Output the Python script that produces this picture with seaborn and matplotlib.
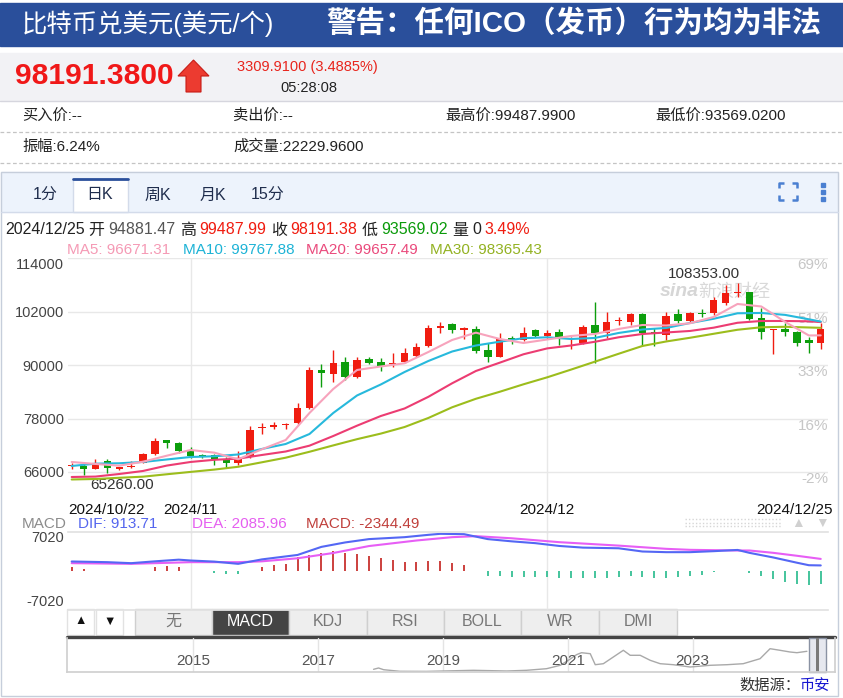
import numpy as np
import matplotlib
matplotlib.use("Agg")
import matplotlib.pyplot as plt
import matplotlib.transforms as mtransforms
from matplotlib.patches import Rectangle, Polygon
import seaborn as sns

# ---- daily candles 2024/10/22 .. 2024/12/25 ----
opens = [67250, 67420, 66680, 68470, 66680, 67060, 68090, 70040, 73120, 72580,
         70720, 69750, 69750, 68920, 67950, 69440, 75770, 76040, 76440, 76940,
         80300, 88900, 88000, 90760, 87400, 91370, 90760, 90180, 90630, 92110,
         94290, 98400, 99230, 97880, 98040, 93390, 91890, 96150, 95640, 97880,
         96600, 97500, 95790, 94900, 99000, 97140, 99860, 99740, 101470, 97360,
         96760, 101470, 99970, 101700, 101630, 103880, 106230, 106340, 100510, 97810,
         98110, 97500, 95640, 94881.47]
highs = [67950, 67800, 68850, 68850, 67190, 68470, 70340, 73700, 73250, 72800,
         71680, 70040, 69980, 69300, 70720, 76400, 76940, 77160, 76940, 81560,
         89640, 90180, 93390, 91890, 91890, 91890, 91530, 92650, 93770, 94900,
         99000, 99740, 99400, 98620, 98850, 94900, 97280, 96530, 98620, 98000,
         97880, 98100, 96380, 99000, 104230, 101990, 100730, 101630, 101600, 98260,
         101990, 102530, 101990, 102530, 105220, 107980, 108353, 106480, 102750, 98040,
         99390, 97660, 96380, 99487.99]
lows = [66610, 65260, 66610, 65710, 66450, 66950, 67950, 69750, 71390, 70200,
        69080, 69210, 67570, 66970, 67570, 69080, 74530, 75660, 75660, 76780,
        80150, 85150, 86270, 86660, 87040, 90180, 88740, 89510, 90400, 91890,
        94000, 97280, 97280, 95790, 92650, 90760, 91800, 94670, 95410, 96380,
        95790, 94510, 93620, 94670, 90540, 96020, 99000, 99000, 94290, 94290,
        95640, 99520, 99390, 100730, 101250, 103490, 105360, 100130, 95790, 92430,
        96530, 94290, 92650, 93569.02]
closes = [67350, 66680, 67950, 66830, 67060, 67420, 70040, 72960, 72580, 70780,
          69530, 69440, 68990, 68020, 68850, 75430, 76060, 76550, 76600, 80440,
          88900, 88160, 90540, 87400, 91150, 90400, 89870, 90540, 92650, 94130,
          98260, 98850, 97880, 98260, 93170, 91890, 95790, 95640, 97140, 96530,
          97140, 96380, 96020, 98620, 97140, 99740, 100060, 101410, 97280, 96980,
          101090, 99970, 101630, 101520, 104620, 106120, 106410, 100350, 97500, 97950,
          97360, 95030, 94881.47, 98191.38]

# moving averages every second day
ma_idx = list(range(0, 63, 2)) + [63]
ma5 = [68250, 67800, 67420, 68310, 69660, 70940, 70340, 68850, 71100, 73190, 79250,
       84640, 88900, 89690, 90410, 92940, 95640, 97280, 95860, 94960, 95750, 96530,
       96980, 98110, 99000, 98890, 99390, 100800, 103720, 103160, 99700, 96650, 96671.31]
ma10 = [67350, 67870, 67960, 68250, 68810, 69370, 69530, 69930, 71170, 72290, 74530,
        79250, 83180, 85650, 88450, 90920, 93050, 94400, 95250, 96040, 96240, 95860,
        96090, 97210, 97990, 98330, 99450, 100400, 101630, 101700, 101270, 100280, 99767.88]
ma20 = [64880, 64970, 65550, 66230, 67440, 68250, 68740, 68990, 69820, 70600, 71910,
        74080, 76400, 78570, 80260, 82880, 85920, 88680, 90540, 92430, 93750, 94400,
        95230, 96240, 96980, 97320, 97660, 98400, 99500, 99900, 99900, 99830, 99657.49]
ma30 = [64320, 64430, 64700, 64950, 65490, 66020, 66540, 67170, 68180, 69210, 70540,
        71970, 73370, 74620, 76100, 78130, 80530, 82440, 84010, 85690, 87260, 88990,
        90760, 92540, 94290, 95300, 96130, 97030, 97930, 98490, 98600, 98440, 98365.43]

# MACD panel
macd_hist = [600, 300, 0, 0, -120, -120, 0, 600, 780, 600,
             0, 0, -420, -660, -660, 0, 600, 1020, 1200, 2400,
             2820, 3180, 3600, 3180, 3000, 2700, 2340, 1920, 1620, 1620,
             1800, 1800, 1380, 1080, 0, -900, -900, -1080, -1140, -1140,
             -1200, -1380, -1380, -1380, -1260, -1260, -1080, -960, -1200, -1260,
             -1260, -1080, -960, -780, -180, 0, -60, -480, -900, -1500,
             -1980, -2400, -2580, -2344.49]
dif_idx = [0, 3, 5, 7, 9, 10, 12, 14, 16, 19, 21, 23, 25, 28, 30, 31, 33, 35, 37,
           39, 41, 43, 46, 48, 50, 52, 54, 56, 57, 59, 61, 62, 63]
dif_val = [1620, 1500, 1320, 1650, 1950, 1800, 1600, 1200, 2000, 2800, 4250, 5050,
           5650, 6000, 6420, 6600, 6540, 5650, 5250, 4920, 4420, 4120, 4000, 3420,
           3300, 3300, 3480, 3700, 3180, 2350, 1400, 950, 913.71]
dea_idx = [0, 5, 10, 14, 16, 19, 22, 25, 29, 32, 34, 37, 41, 46, 50, 52, 56, 57, 59, 61, 63]
dea_val = [1320, 1200, 1500, 1500, 1650, 2200, 3150, 4400, 5400, 6000, 6180, 5800,
           5100, 4480, 3900, 3720, 3600, 3600, 3180, 2650, 2085.96]

# overview strip at the bottom
nav_year = [2017.89, 2017.97, 2018.05, 2018.31, 2018.74, 2019.49, 2020.02, 2020.34,
            2020.66, 2020.88, 2021.01, 2021.14, 2021.22, 2021.36, 2021.44, 2021.57,
            2021.73, 2021.89, 2022.0, 2022.16, 2022.32, 2022.48, 2022.69, 2022.96,
            2023.28, 2023.55, 2023.81, 2024.08, 2024.24, 2024.4, 2024.56, 2024.67, 2024.83]
nav_val = [9900, 15750, 8100, 900, 500, 5400, 2250, 5400, 12600, 27900, 50400, 75600,
           84600, 80100, 30600, 35100, 65250, 95400, 72900, 72900, 50400, 35100, 30600,
           20250, 27900, 30600, 35100, 57600, 102600, 95400, 87750, 84600, 90900]
nav_ticks = [2015, 2017, 2019, 2021, 2023]

price_ticks = [66000, 78000, 90000, 102000, 114000]
pct_labels = ["-2%", "16%", "33%", "51%", "69%"]
date_idx = [0, 10, 40, 63]
date_labels = ["2024/10/22", "2024/11", "2024/12", "2024/12/25"]
grid_idx = [10, 40]
indicator_tabs = ["无", "MACD", "KDJ", "RSI", "BOLL", "WR", "DMI"]
period_tabs = ["1分", "日K", "周K", "月K", "15分"]

RED, GREEN = "#f01c10", "#0c9e0c"

sns.set_theme(style="white")
plt.rcParams["font.family"] = ["Liberation Sans", "Noto Sans CJK SC", "DejaVu Sans"]
plt.rcParams["axes.unicode_minus"] = False

W, H = 843, 698
fig = plt.figure(figsize=(W / 100, H / 100), dpi=100, facecolor="white")
ui = fig.add_axes([0, 0, 1, 1], zorder=0)
ui.set_xlim(0, W)
ui.set_ylim(H, 0)
ui.axis("off")
R = fig.canvas.get_renderer()


def box(x0, y0, x1, y1, z=2):
    a = fig.add_axes([x0 / W, 1 - y1 / H, (x1 - x0) / W, (y1 - y0) / H], zorder=z)
    a.set_facecolor("none")
    return a


def txt(x, y, s, size, color="#222", **kw):
    kw.setdefault("va", "center")
    return ui.text(x, y, s, fontsize=size, color=color, **kw)


def fit(t, width):
    w = t.get_window_extent(renderer=R).width
    t.set_fontsize(t.get_fontsize() * width / w)


def seq(x, y, parts, size, gap=4):
    for s, c in parts:
        t = txt(x, y, s, size, c)
        x += t.get_window_extent(renderer=R).width + gap


# ---- header ----
ui.add_patch(Rectangle((0, 3), W, 42.5, color="#2a4f9b"))
fit(txt(22, 24, "比特币兑美元(美元/个)", 17, "white"), 253)
fit(txt(326, 24, "警告：任何ICO（发币）行为均为非法", 21, "white", fontweight="bold"), 494)

ui.add_patch(Rectangle((0, 53), W, 47, color="#f2f2f5"))
ui.plot([0, W], [100.5, 100.5], color="#d6d6de", lw=1)
fit(txt(15, 76.5, "98191.3800", 22, "#f01818", fontweight="bold"), 159)
ui.add_patch(Polygon([(193.5, 60), (209, 76), (201, 76), (201, 92), (186, 92), (186, 76), (178, 76)],
                     closed=True, fc="#ec3b30", ec="#c81c16", lw=0.8))
txt(237, 67.5, "3309.9100 (3.4885%)", 10.5, "#e8241c")
txt(280, 87.5, "05:28:08", 10.5, "#222")

for x, s in [(22, "买入价:--"), (233, "卖出价:--"), (445, "最高价:99487.9900"), (655, "最低价:93569.0200")]:
    txt(x, 116, s, 11, "#222")
for x, s in [(22, "振幅:6.24%"), (233, "成交量:22229.9600")]:
    txt(x, 147, s, 11, "#222")
for yy in (131.5, 162.5):
    ui.plot([0, W], [yy, yy], color="#c4c4c4", lw=0.9, ls=(0, (3, 2)))

# ---- chart container & tabs ----
ui.add_patch(Rectangle((1, 172), 837, 39.5, color="#edf3fc"))
ui.add_patch(Rectangle((0.5, 171.5), 837.5, 524, fill=False, ec="#c6cedb", lw=1))
ui.plot([1, 838], [211.5, 211.5], color="#d3dbea", lw=1)
ui.add_patch(Rectangle((73, 179), 55, 33, fc="white", ec="#d3dbea", lw=1))
ui.plot([73, 128], [179, 179], color="#2a4f9b", lw=2)
for x, s, ha in zip([33, 100, 144.5, 199.5, 251], period_tabs, ["left", "center", "left", "left", "left"]):
    txt(x, 195, s, 11.5, "#1f2d4d", ha=ha)
bx0, bx1, by0, by1, L = 779, 797, 183, 200, 5
for xs, ys in [([bx0, bx0, bx0 + L], [by0 + L, by0, by0]), ([bx1 - L, bx1, bx1], [by0, by0, by0 + L]),
               ([bx0, bx0, bx0 + L], [by1 - L, by1, by1]), ([bx1 - L, bx1, bx1], [by1, by1, by1 - L])]:
    ui.plot(xs, ys, color="#4a7fd1", lw=1.8, solid_capstyle="butt")
ui.plot([822.5] * 3, [185, 192, 199], "s", ms=2.8, color="#4a7fd1")

seq(5, 230, [("2024/12/25", "#222"), ("开", "#222"), ("94881.47", "#555"), ("高", "#222"),
             ("99487.99", RED), ("收", "#222"), ("98191.38", RED), ("低", "#222"),
             ("93569.02", "#0a9a0a"), ("量", "#222"), ("0", "#222"), ("3.49%", RED)], 11.5)
for x, s, c in [(67, "MA5: 96671.31", "#f59ab5"), (183, "MA10: 99767.88", "#1db3d6"),
                (306, "MA20: 99657.49", "#ea4a7c"), (430, "MA30: 98365.43", "#93b222")]:
    txt(x, 249.5, s, 11, c)

# watermark
txt(660, 292, "sina", 14, "#d6d6d6", fontweight="bold", style="italic")
txt(698, 292, "新浪财经", 13, "#d9d9d9")

# ---- candlestick panel ----
idx = np.arange(len(closes))
o, h, l, c = map(np.array, (opens, highs, lows, closes))
col = np.where(c >= o, RED, GREEN)
XL = (-0.31, 63.61)

ax = box(68, 258, 828, 534)
ax.set_xlim(*XL)
ax.set_ylim(52080, 114040)
ax.set_axisbelow(True)
ax.yaxis.grid(True, color="#e8e8e8", lw=1)
for g in grid_idx:
    ax.axvline(g, color="#e8e8e8", lw=1, zorder=0)
ax.vlines(idx, l, h, colors=col, lw=1.0, zorder=3)
ax.bar(idx, np.maximum(np.abs(c - o), 270), bottom=np.minimum(o, c), width=0.62,
       color=col, linewidth=0, zorder=3)
for vals, lc in [(ma30, "#9cbd1c"), (ma20, "#ec3c72"), (ma10, "#27b9dc"), (ma5, "#f7a3bc")]:
    sns.lineplot(x=ma_idx, y=vals, ax=ax, color=lc, linewidth=1.5, zorder=4)
for s in ax.spines.values():
    s.set_visible(False)
ax.set_xticks([])
ax.set_yticks(price_ticks)
ax.set_yticklabels([str(v) for v in price_ticks])
ax.tick_params(axis="y", length=0, pad=3, labelsize=10.5, labelcolor="#444")
ax.get_yticklabels()[-1].set_va("top")
ax.set_xlabel("")
ax.set_ylabel("")
for v, s in zip(price_ticks, pct_labels):
    ax.text(1.0, v, s, transform=ax.get_yaxis_transform(), ha="right", va="top",
            color="#c6c6c6", fontsize=11)

xt = ax.get_xaxis_transform()
xt_r = mtransforms.offset_copy(xt, fig=fig, x=5, units="dots")
for i, (d, s) in enumerate(zip(date_idx, date_labels)):
    if i == 0:
        ax.text(XL[0], 0.087, s, transform=xt, ha="left", va="center", fontsize=11, color="#111")
    elif i == len(date_idx) - 1:
        ax.text(XL[1], 0.087, s, transform=xt_r, ha="right", va="center", fontsize=11, color="#111")
    else:
        ax.text(d, 0.087, s, transform=xt, ha="center", va="center", fontsize=11, color="#111")

hi = int(np.argmax(h))
ax.annotate(f"{h[hi]:.2f}", xy=(hi, h[hi]), xytext=(2, 2), textcoords="offset points",
            ha="right", va="bottom", fontsize=11, color="#333")
lo = int(np.argmin(l))
ax.annotate(f"{l[lo]:.2f}", xy=(lo, l[lo]), xytext=(5, -2), textcoords="offset points",
            ha="left", va="top", fontsize=11, color="#333")

# ---- MACD panel ----
txt(22, 524, "MACD", 11, "#8c8c8c")
txt(78, 524, "DIF: 913.71", 11, "#5566ee")
txt(191.5, 524, "DEA: 2085.96", 11, "#e55ff0")
txt(306, 524, "MACD: -2344.49", 11, "#c0403c")
for yy in (519, 522.5, 526):
    ui.plot([685, 782], [yy, yy], color="#d6d6d6", lw=1, ls=(0, (1, 1.5)))
txt(798, 523, "▲", 10, "#d0d0d0", ha="center")
txt(822, 523, "▼", 10, "#d0d0d0", ha="center")

mx = box(68, 531.5, 828, 609.5)
mx.set_xlim(*XL)
mx.set_ylim(-7020, 7020)
for g in grid_idx:
    mx.axvline(g, color="#e8e8e8", lw=1, zorder=0)
hist = np.array(macd_hist)
mx.vlines(idx, 0, hist, colors=np.where(hist >= 0, "#c8322e", "#36bf94"), lw=1.3)
sns.lineplot(x=dea_idx, y=dea_val, ax=mx, color="#e75ef5", linewidth=1.5)
sns.lineplot(x=dif_idx, y=dif_val, ax=mx, color="#5467f4", linewidth=1.5)
for k in ("left", "right"):
    mx.spines[k].set_visible(False)
for k in ("top", "bottom"):
    mx.spines[k].set_color("#e2e2e2")
mx.set_xticks([])
mx.set_yticks([-7020, 7020])
mx.set_yticklabels(["-7020", "7020"])
mx.tick_params(axis="y", length=0, pad=3, labelsize=10.5, labelcolor="#444")
lbs = mx.get_yticklabels()
lbs[0].set_va("bottom")
lbs[1].set_va("top")
mx.set_xlabel("")
mx.set_ylabel("")

# ---- indicator buttons ----
for x0, s in [(67, "▲"), (96, "▼")]:
    ui.add_patch(Rectangle((x0, 608.5), 27, 26, fc="white", ec="#e2e2e2", lw=1))
    txt(x0 + 13.5, 621.5, s, 9, "#111", ha="center")
edges = [135, 212, 289, 367, 444, 521, 599, 677]
for i, s in enumerate(indicator_tabs):
    sel = s == "MACD"
    ui.add_patch(Rectangle((edges[i], 608.5), edges[i + 1] - edges[i], 26,
                           fc="#444444" if sel else "#eeeeee", ec="#cfcfcf", lw=1))
    txt((edges[i] + edges[i + 1]) / 2, 621.5, s, 11.5, "white" if sel else "#777", ha="center")

# ---- overview strip ----
ui.plot([67, 835], [637, 637], color="#444", lw=2.4)
nv = box(67, 638, 835, 671.5)
nv.set_xlim(2012.98, 2025.28)
nv.set_ylim(0, 150750)
for y in nav_ticks:
    nv.axvline(y, color="#e4e4e4", lw=1, zorder=0)
    nv.text(y, 0.3, str(y), transform=nv.get_xaxis_transform(), ha="center", va="center",
            fontsize=11, color="#555")
sns.lineplot(x=nav_year, y=nav_val, ax=nv, color="#a9a9a9", linewidth=1)
nv.spines["top"].set_visible(False)
for k in ("left", "right", "bottom"):
    nv.spines[k].set_color("#d0d0d0")
nv.set_xticks([])
nv.set_yticks([])
nv.set_xlabel("")
nv.set_ylabel("")
ui.add_patch(Rectangle((809, 637.5), 17, 34, fc="#e6e8ef", ec="#8a92a3", lw=1, zorder=5))
ui.add_patch(Rectangle((816, 637.5), 3, 34, fc="#7a7a7a", lw=0, zorder=5))

seq(739, 686, [("数据源：", "#333"), ("币安", "#1515d0")], 11, gap=0)

fig.savefig("out.png", dpi=100, facecolor="white")
